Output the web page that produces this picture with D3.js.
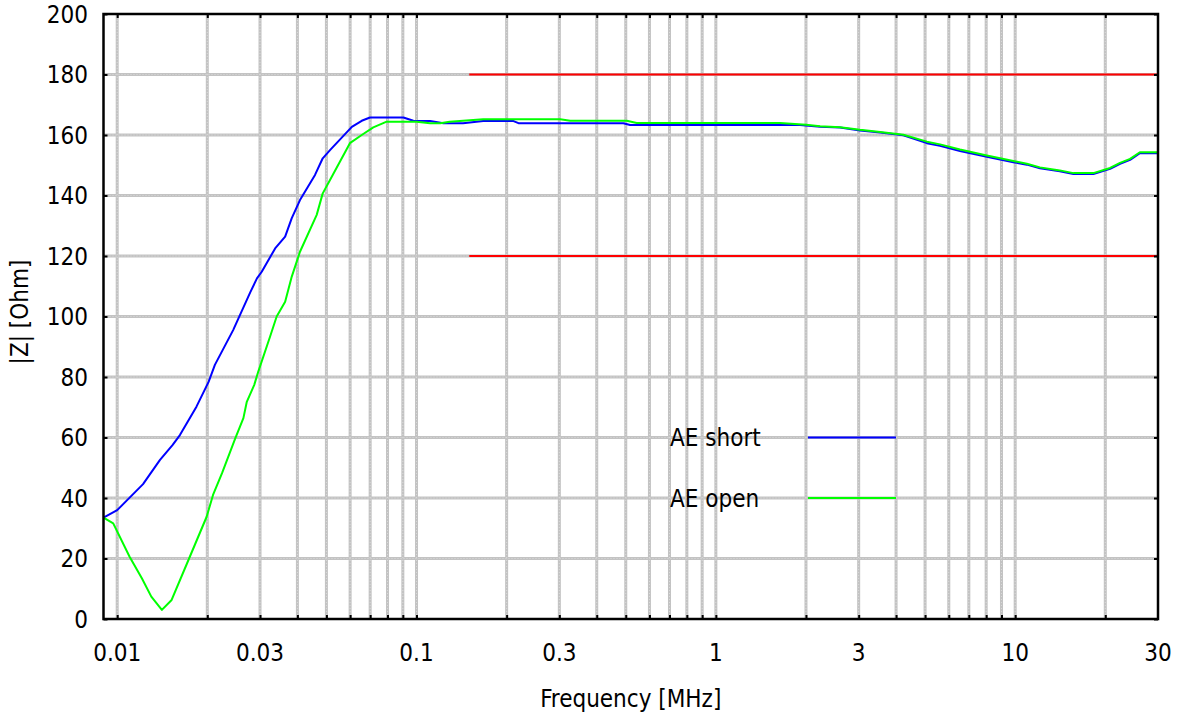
<!DOCTYPE html>
<html>
<head>
<meta charset="utf-8">
<script src="https://cdn.jsdelivr.net/npm/d3@7/dist/d3.min.js"></script>
<style>
  html, body { margin: 0; padding: 0; background: #fff; }
  svg { display: block; }
  text { font-family: "DejaVu Sans Condensed", "DejaVu Sans", sans-serif; fill: #000; }
</style>
</head>
<body>
<svg id="chart" width="1181" height="716"></svg>
<script>
// ---- Data ----
const freqShort = [0.009, 0.010, 0.0122, 0.0139, 0.0153, 0.0162, 0.0184, 0.0202, 0.0212, 0.0244,
  0.0278, 0.0293, 0.0304, 0.0337, 0.0364, 0.0383, 0.0408, 0.0458, 0.0486, 0.0514,
  0.0608, 0.0656, 0.0699, 0.0904, 0.0976, 0.111, 0.123, 0.143, 0.167, 0.211,
  0.219, 0.491, 0.517, 1.91, 2.23, 2.6, 3.03, 3.54, 4.23, 5.07,
  5.61, 6.54, 8.04, 9.86, 10.94, 12.1, 14.1, 15.65, 18.25, 20.75,
  22.4, 24.2, 26.1, 30];
const zShort = [33.5, 36, 44.6, 52.6, 57.5, 60.8, 70.2, 78.4, 84, 95.5,
  107.9, 112.6, 114.8, 122.5, 126.4, 132.5, 138.5, 146.8, 152.3, 155,
  162.7, 164.7, 165.8, 165.8, 164.7, 164.6, 163.9, 163.9, 164.6, 164.6,
  163.9, 163.9, 163.3, 163.3, 162.7, 162.5, 161.5, 160.8, 159.9, 157.3,
  156.4, 154.7, 152.8, 151.0, 150.2, 149.0, 148.0, 147.1, 147.1, 148.8,
  150.5, 151.8, 154.0, 154.0];

const freqOpen = [0.009, 0.0097, 0.0110, 0.0121, 0.0130, 0.0141, 0.0152, 0.0173, 0.0199, 0.0209,
  0.0224, 0.0248, 0.0264, 0.0271, 0.0287, 0.0296, 0.0324, 0.0341, 0.0364, 0.0383,
  0.0408, 0.0464, 0.0486, 0.0514, 0.0599, 0.0656, 0.0717, 0.0795, 0.100, 0.111,
  0.120, 0.129, 0.167, 0.302, 0.326, 0.504, 0.544, 1.64, 2.0, 2.23,
  2.6, 3.03, 3.54, 4.23, 5.07, 5.61, 6.54, 8.04, 9.86, 10.94,
  12.1, 14.1, 15.65, 18.25, 20.75, 22.4, 24.2, 26.1, 30];
const zOpen = [33.5, 31.6, 20.6, 13.4, 7.4, 3.0, 6.3, 19.5, 33.8, 41,
  48.2, 59.7, 66.4, 71.8, 77.4, 81.8, 93.3, 100, 104.9, 113.2,
  121.4, 133.6, 140.7, 145.1, 157.3, 160, 162.5, 164.4, 164.4, 163.9,
  163.9, 164.4, 165.2, 165.2, 164.7, 164.7, 164, 164, 163.4, 162.9,
  162.6, 161.7, 161.0, 160.1, 157.8, 156.9, 155.2, 153.2, 151.4, 150.5,
  149.3, 148.3, 147.4, 147.4, 149.1, 150.8, 152.1, 154.3, 154.3];

const limitFreq = [0.15, 30];
const limitLevels = [120, 180];

const seriesNames = ["AE short", "AE open"];
const seriesColors = ["#0000ff", "#00ff00"];

const xTickValues = [0.01, 0.03, 0.1, 0.3, 1, 3, 10, 30];
const xTickLabels = ["0.01", "0.03", "0.1", "0.3", "1", "3", "10", "30"];
const yTickValues = [0, 20, 40, 60, 80, 100, 120, 140, 160, 180, 200];

const xDomain = [0.009, 30];
const yDomain = [0, 200];

// ---- Layout ----
const L = 103.5, R = 1158, T = 14, B = 619;
const svg = d3.select("#chart");
const x = d3.scaleLog().domain(xDomain).range([L, R]);
const y = d3.scaleLinear().domain(yDomain).range([B, T]);

// vertical grid values: 1..9 per decade inside domain
const xGrid = [];
for (let e = -2; e <= 1; e++) {
  for (let m = 1; m <= 9; m++) {
    const v = +(m * Math.pow(10, e)).toPrecision(3);
    if (v > xDomain[0] && v < xDomain[1]) xGrid.push(v);
  }
}
const yGrid = yTickValues.filter(v => v > yDomain[0] && v < yDomain[1]);

const grid = svg.append("g");
function gridLine(sel) {
  sel.attr("stroke", "#c3c3c3").attr("stroke-width", 3);
}
grid.selectAll(".gx").data(xGrid).join("line")
  .attr("x1", d => x(d)).attr("x2", d => x(d)).attr("y1", T).attr("y2", B).call(gridLine);
grid.selectAll(".gy").data(yGrid).join("line")
  .attr("x1", L).attr("x2", R).attr("y1", d => y(d)).attr("y2", d => y(d)).call(gridLine);
// dotted texture
grid.selectAll(".gx2").data(xGrid).join("line")
  .attr("x1", d => x(d)).attr("x2", d => x(d)).attr("y1", T).attr("y2", B)
  .attr("stroke", "#dadada").attr("stroke-width", 1).attr("stroke-dasharray", "1,2");
grid.selectAll(".gy2").data(yGrid).join("line")
  .attr("x1", L).attr("x2", R).attr("y1", d => y(d)).attr("y2", d => y(d))
  .attr("stroke", "#dadada").attr("stroke-width", 1).attr("stroke-dasharray", "1,2");

// limit lines
svg.append("g").selectAll("line").data(limitLevels).join("line")
  .attr("x1", x(limitFreq[0])).attr("x2", x(limitFreq[1]))
  .attr("y1", d => y(d)).attr("y2", d => y(d))
  .attr("stroke", "#ff0000").attr("stroke-width", 2);

// series
const line = d3.line().x(d => x(d[0])).y(d => y(d[1]));
const series = [d3.zip(freqShort, zShort), d3.zip(freqOpen, zOpen)];
svg.append("g").selectAll("path").data(series).join("path")
  .attr("d", d => line(d))
  .attr("fill", "none")
  .attr("stroke", (d, i) => seriesColors[i])
  .attr("stroke-width", 2)
  .attr("stroke-linejoin", "round");

// axes (ticks inside)
const axB = d3.axisBottom(x).tickValues(xGrid).tickSize(-4).tickFormat("");
const axT = d3.axisTop(x).tickValues(xGrid).tickSize(-4).tickFormat("");
const axL = d3.axisLeft(y).tickValues(yTickValues).tickSize(-4).tickFormat("");
const axR = d3.axisRight(y).tickValues(yTickValues).tickSize(-4).tickFormat("");
[[axB, `translate(0,${B})`], [axT, `translate(0,${T})`], [axL, `translate(${L},0)`], [axR, `translate(${R},0)`]]
  .forEach(([ax, tr]) => {
    const g = svg.append("g").attr("transform", tr).call(ax);
    g.select(".domain").remove();
    g.selectAll("line").attr("stroke", "#000").attr("stroke-width", 2);
  });
svg.append("rect").attr("x", L).attr("y", T).attr("width", R - L).attr("height", B - T)
  .attr("fill", "none").attr("stroke", "#000").attr("stroke-width", 2.5);

// tick labels
svg.append("g").selectAll("text").data(yTickValues).join("text")
  .attr("x", 88).attr("y", d => y(d)).attr("dy", "0.36em")
  .attr("text-anchor", "end").attr("font-size", 24)
  .text(d => d);
svg.append("g").selectAll("text").data(xTickValues).join("text")
  .attr("x", d => x(d)).attr("y", 661)
  .attr("text-anchor", "middle").attr("font-size", 24)
  .text((d, i) => xTickLabels[i]);

// axis titles
svg.append("text").attr("x", (L + R) / 2).attr("y", 707)
  .attr("text-anchor", "middle").attr("font-size", 24).text("Frequency [MHz]");
svg.append("text").attr("transform", "translate(28,312) rotate(-90)")
  .attr("text-anchor", "middle").attr("font-size", 24).text("|Z| [Ohm]");

// legend
const leg = svg.append("g").selectAll("g").data(seriesNames).join("g")
  .attr("transform", (d, i) => `translate(0,${y(60) + i * (y(40) - y(60))})`);
leg.append("text").attr("x", 670).attr("y", 0).attr("dy", "0.36em")
  .attr("font-size", 24).text(d => d);
leg.append("line").attr("x1", 808).attr("x2", 896).attr("y1", 0).attr("y2", 0)
  .attr("stroke", (d, i) => seriesColors[i]).attr("stroke-width", 2);
</script>
</body>
</html>
